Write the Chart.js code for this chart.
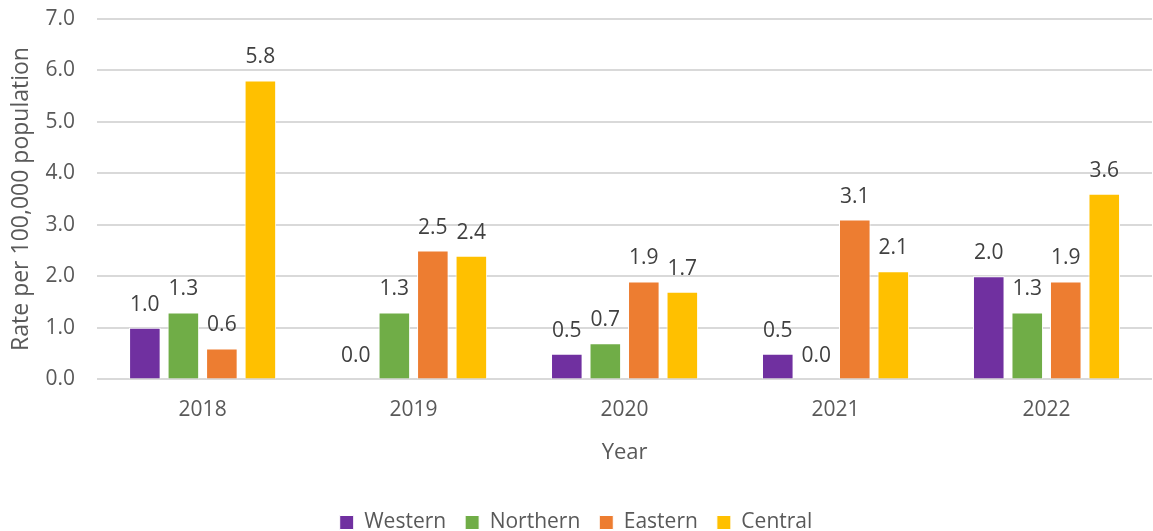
<!DOCTYPE html>
<html>
<head>
<meta charset="utf-8">
<script src="https://cdn.jsdelivr.net/npm/chart.js@4"></script>
<style>
  html, body { margin: 0; padding: 0; background: #fff; }
  #wrap { width: 1153px; height: 531px; }
</style>
</head>
<body>
<div id="wrap"><canvas id="chart"></canvas></div>
<script>
// Data
const years = ["2018", "2019", "2020", "2021", "2022"];
const western = [1.0, 0.0, 0.5, 0.5, 2.0];
const northern = [1.3, 1.3, 0.7, 0.0, 1.3];
const eastern = [0.6, 2.5, 1.9, 3.1, 1.9];
const central = [5.8, 2.4, 1.7, 2.1, 3.6];

const FONT = "'Open Sans', 'Liberation Sans', sans-serif";

// simple value labels above each bar
const barLabels = {
    id: "barLabels",
    afterDatasetsDraw(chart) {
        const ctx = chart.ctx;
        ctx.save();
        ctx.font = "21px " + FONT;
        ctx.fillStyle = "#404040";
        ctx.textAlign = "center";
        ctx.textBaseline = "alphabetic";
        chart.data.datasets.forEach((ds, i) => {
            chart.getDatasetMeta(i).data.forEach((bar, j) => {
                ctx.fillText(ds.data[j].toFixed(1), bar.x, bar.y - 17);
            });
        });
        ctx.restore();
    }
};

const makeSet = (label, data, color) => ({
    label,
    data,
    backgroundColor: color,
    borderColor: "#ffffff",
    borderWidth: 1,
    barPercentage: 0.82,
    categoryPercentage: 0.73
});

new Chart(document.getElementById("chart"), {
    type: "bar",
    data: {
        labels: years,
        datasets: [
            makeSet("Western", western, "#7030A0"),
            makeSet("Northern", northern, "#70AD47"),
            makeSet("Eastern", eastern, "#ED7D31"),
            makeSet("Central", central, "#FFC000")
        ]
    },
    options: {
        responsive: true,
        maintainAspectRatio: false,
        animation: false,
        layout: { padding: { left: 0, right: 1, top: 0, bottom: -12 } },
        plugins: {
            legend: {
                position: "bottom",
                labels: {
                    font: { family: FONT, size: 21 },
                    color: "#595959",
                    boxWidth: 14,
                    boxHeight: 14,
                    padding: 19
                }
            },
            tooltip: { enabled: false }
        },
        scales: {
            x: {
                grid: { display: false, drawTicks: false },
                border: { display: false },
                ticks: {
                    font: { family: FONT, size: 21 },
                    color: "#595959",
                    padding: 18
                },
                title: {
                    display: true,
                    text: "Year",
                    font: { family: FONT, size: 22 },
                    color: "#595959",
                    padding: { top: -1, bottom: 27 }
                }
            },
            y: {
                min: 0,
                max: 7,
                ticks: {
                    stepSize: 1,
                    font: { family: FONT, size: 21 },
                    color: "#595959",
                    padding: 6,
                    callback: v => v.toFixed(1)
                },
                grid: {
                    color: "#d9d9d9",
                    lineWidth: 2,
                    drawTicks: true,
                    tickLength: 16,
                    tickColor: "rgba(0,0,0,0)"
                },
                border: { display: false },
                title: {
                    display: true,
                    text: "Rate per 100,000 population",
                    font: { family: FONT, size: 23 },
                    color: "#595959",
                    padding: { top: 8, bottom: 4 }
                }
            }
        }
    },
    plugins: [barLabels]
});
</script>
</body>
</html>
